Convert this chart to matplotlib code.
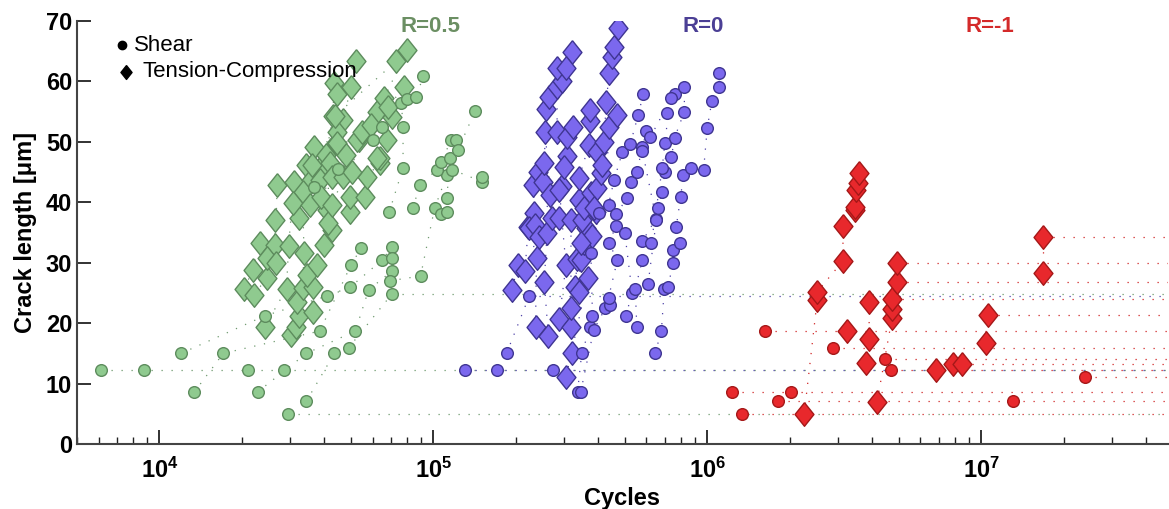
import numpy as np
import matplotlib
matplotlib.use('Agg')
import matplotlib.pyplot as plt
from matplotlib.ticker import LogLocator, FuncFormatter

plt.rcParams['font.family'] = ['Liberation Sans', 'DejaVu Sans']
plt.rcParams['mathtext.fontset'] = 'custom'
plt.rcParams['mathtext.rm'] = 'Liberation Sans'
plt.rcParams['mathtext.bf'] = 'Liberation Sans:bold'

# ---- R=0.5, shear (circles); ids = crack tracks
g_s_N = [6140, 8800, 21000, 28400,
         12000, 24200, 41000, 49800, 65200, 70500,
         13400, 17100, 38500, 50000, 54600,
         22800, 34400, 51900, 58000, 70500, 70500,
         29500,
         34400, 43500, 49000, 70500,
         69200, 89800, 101000, 112000, 142000,
         69000, 77500, 77500, 76400, 80400, 86700, 91900,
         36700, 45000, 60000, 65000,
         84000, 89500, 103000, 107000, 116000, 121000,
         107000, 112000, 112000, 115000, 123000,
         117000, 151000, 151000]
g_s_a = [12.2, 12.2, 12.2, 12.2,
         15.0, 21.2, 24.5, 26.0, 30.5, 32.6,
         8.6, 15.0, 18.7, 29.6, 32.5,
         8.6, 15.0, 18.7, 25.5, 28.6, 30.8,
         5.0,
         7.1, 15.0, 15.9, 24.8,
         27.0, 27.8, 39.0, 44.5, 55.1,
         38.4, 45.7, 52.5, 56.5, 57.1, 57.5, 60.9,
         42.5, 45.5, 50.3, 52.5,
         39.0, 42.9, 45.4, 46.7, 50.3, 50.3,
         38.0, 38.4, 40.7, 47.4, 48.7,
         45.4, 43.4, 44.2]
g_s_id = [1]*4 + [2]*6 + [3]*5 + [4]*6 + [5] + [6]*4 + [7]*5 + [8]*7 + [9]*4 + [10]*6 + [11]*5 + [12]*3

# ---- R=0.5, tension-compression (diamonds)
g_t_N = [20400, 21900, 23200, 26500, 26900,
         22200, 24600, 24600, 26700, 26300, 32400, 34400, 36700,
         24200, 29100, 29600, 31000, 35800, 39000, 42900, 43500,
         30300, 31500, 32400, 31700, 33300, 33700, 33300, 38500, 40500, 44600,
         36400, 36400, 34700, 37700, 40000, 41000, 41800, 46900, 50000, 52400,
         30600, 35400, 36000, 38800, 42700, 44000, 44600, 43800, 73300,
         42800, 41400, 42800, 46900, 44600, 53500, 62000, 66000, 80300,
         49500, 49500, 56500, 57000, 63700, 64000, 68000, 70500, 68500, 78000,
         48000, 50500, 52700, 55000, 59000, 62300]
g_t_a = [25.7, 28.8, 33.3, 33.0, 42.9,
         24.7, 27.5, 30.8, 30.0, 37.1, 37.4, 46.2, 49.2,
         19.4, 25.7, 32.8, 43.4, 43.7, 45.9, 54.2, 59.8,
         18.0, 19.4, 21.2, 23.5, 25.8, 31.6, 41.7, 43.7, 47.8, 57.9,
         21.8, 26.0, 28.0, 29.6, 33.0, 38.7, 46.5, 53.6, 59.1, 63.4,
         39.9, 39.6, 46.2, 40.9, 44.2, 49.8, 51.7, 54.3, 63.4,
         35.4, 36.6, 39.6, 44.2, 49.8, 50.3, 55.0, 57.2, 65.2,
         38.4, 40.9, 40.9, 44.2, 46.5, 47.4, 50.3, 54.1, 55.8, 59.1,
         47.8, 45.0, 50.3, 51.7, 52.8, 47.4]
g_t_id = [1]*5 + [2]*8 + [3]*8 + [4]*10 + [5]*10 + [6]*9 + [7]*9 + [8]*10 + [9]*6

# ---- R=0, shear (circles)
p_s_N = [131000, 171000, 274000,
         185000, 224000,
         336000, 348000, 374000, 381000, 376000, 403000, 436000, 457000, 490000, 524000, 560000, 584000,
         345000, 385000, 425000, 443000, 436000, 470000, 436000, 466000, 466000, 510000, 528000, 553000, 580000, 600000,
         504000, 532000, 500000, 580000, 650000, 660000, 685000, 700000, 714000, 760000,
         553000, 546000, 580000, 625000, 685000, 700000, 740000, 760000, 825000, 825000,
         645000, 680000, 697000, 718000, 752000, 752000, 795000, 770000, 800000, 817000, 875000,
         608000, 652000, 580000, 620000, 740000,
         970000, 1000000, 1040000, 1107000, 1107000]
p_s_a = [12.2, 12.2, 12.2,
         15.0, 24.5,
         8.6, 15.0, 19.4, 21.2, 31.6, 38.2, 39.6, 43.7, 48.3, 49.7, 54.5, 57.9,
         8.6, 18.9, 22.5, 23.0, 24.2, 30.5, 33.3, 36.1, 38.1, 40.7, 43.4, 45.0, 49.2, 51.8,
         21.2, 25.0, 34.9, 33.6, 37.3, 39.0, 41.7, 45.0, 54.8, 57.9,
         19.4, 25.7, 30.5, 33.3, 45.7, 49.8, 47.5, 50.7, 55.0, 59.1,
         15.0, 18.7, 25.7, 26.0, 30.0, 32.1, 33.3, 35.9, 40.9, 44.5, 45.7,
         26.5, 37.1, 48.5, 50.8, 57.3,
         45.4, 52.3, 56.8, 59.1, 61.4]
p_s_id = [1]*3 + [2]*2 + [3]*12 + [4]*14 + [5]*10 + [6]*10 + [7]*11 + [8]*5 + [9]*5

# ---- R=0, tension-compression (diamonds)
p_t_N = [194000, 203000, 216000, 222000, 234000, 232000, 240000, 252000, 254000, 258000, 265000, 283000, 296000, 321000,
         236000, 238000, 224000, 235000, 244000, 267000, 256000, 283000, 283000, 305000,
         263000, 254000, 260000, 270000, 288000, 296000, 308000, 308000, 324000, 374000, 374000,
         288000, 305000, 288000, 300000,
         318000, 318000, 340000, 340000, 370000,
         320000, 318000, 330000, 335000, 345000, 355000, 377000, 396000, 397000, 420000, 437000, 428000,
         305000, 367000, 362000, 380000, 392000, 410000, 412000, 437000, 450000, 455000, 473000,
         340000, 345000, 350000, 355000, 385000, 470000]
p_t_a = [25.5, 29.6, 28.6, 35.9, 38.2, 42.9, 45.0, 43.4, 46.5, 55.5, 57.5, 59.0, 60.0, 64.9,
         19.4, 30.8, 35.8, 36.3, 34.3, 41.2, 51.7, 51.7, 62.2, 62.2,
         17.9, 26.8, 34.9, 37.4, 37.4, 42.7, 47.7, 50.8, 52.5, 53.5, 55.3,
         20.7, 29.6, 42.0, 45.9,
         19.4, 37.1, 40.4, 44.0, 49.5,
         15.0, 22.5, 26.0, 30.6, 30.5, 33.3, 41.6, 42.4, 48.3, 50.0, 52.5, 56.6,
         11.1, 27.5, 35.8, 34.4, 38.4, 44.9, 46.2, 61.4, 64.0, 65.7, 68.9,
         25.2, 33.3, 37.1, 39.0, 39.0, 54.5]
p_t_id = [1]*14 + [2]*10 + [3]*11 + [4]*4 + [8]*5 + [5]*12 + [6]*11 + [7]*6

# ---- R=-1, shear (circles)
r_s_N = [1230000, 2030000, 1340000, 1630000, 1820000, 13100000, 2880000, 4460000, 4700000, 24000000]
r_s_a = [8.6, 8.6, 5.0, 18.7, 7.1, 7.1, 15.9, 14.1, 12.2, 11.1]
r_s_id = [1, 1, 2, 3, 4, 4, 5, 6, 7, 8]

# ---- R=-1, tension-compression (diamonds)
r_t_N = [2260000, 2520000, 2520000, 3130000, 3130000, 3470000, 3470000, 3500000, 3560000, 3580000,
         3240000,
         3800000, 3900000, 3900000,
         4170000, 4730000, 4730000, 4730000,
         4930000, 4930000,
         6850000,
         7900000, 8500000,
         10400000, 10600000,
         16800000, 16800000]
r_t_a = [5.0, 23.8, 25.2, 30.3, 36.1, 38.7, 39.2, 42.0, 43.2, 44.8,
         18.7,
         13.4, 17.4, 23.5,
         7.0, 20.9, 22.3, 24.0,
         26.8, 30.0,
         12.2,
         13.2, 13.2,
         16.7, 21.4,
         28.3, 34.3]
r_t_id = [1]*10 + [2] + [3]*3 + [4]*4 + [5]*2 + [6] + [7]*2 + [8]*2 + [9]*2

# cracks that stopped growing: dotted line runs on to the end of the axis
g_run_N = [28400, 29500, 70500]
g_run_a = [12.2, 5.0, 24.8]
p_run_N = [274000, 224000]
p_run_a = [12.2, 24.5]
r_run_N = [16800000, 4930000, 4930000, 4730000, 10600000, 1630000, 2880000, 4460000, 8500000, 4700000,
           24000000, 2030000, 13100000, 1340000]
r_run_a = [34.3, 30.0, 26.8, 24.0, 21.4, 18.7, 15.9, 14.1, 13.2, 12.2, 11.1, 8.6, 7.1, 5.0]

groups = [
    ('#8fca8f', '#5d8c5d', '#6f9a6f',
     (g_s_N, g_s_a, g_s_id), (g_t_N, g_t_a, g_t_id), (g_run_N, g_run_a)),
    ('#7b68ee', '#3f3592', '#4e42a8',
     (p_s_N, p_s_a, p_s_id), (p_t_N, p_t_a, p_t_id), (p_run_N, p_run_a)),
    ('#e8282c', '#a51818', '#d02424',
     (r_s_N, r_s_a, r_s_id), (r_t_N, r_t_a, r_t_id), (r_run_N, r_run_a)),
]

XMAX = 4.8e7
dotted = (0, (1, 7))
diamond = [(0, 1), (0.8, 0), (0, -1), (-0.8, 0), (0, 1)]

fig = plt.figure(figsize=(11.69, 5.09), dpi=100)
ax = fig.add_axes([0.0659, 0.1277, 0.933, 0.831])
ax.set_xscale('log')

for face, edge, line, shear, tc, run in groups:
    # dotted track lines + runouts first
    for N, a, ids in (shear, tc):
        N = np.array(N, dtype=float)
        a = np.array(a, dtype=float)
        ids = np.array(ids)
        for k in np.unique(ids):
            m = ids == k
            if m.sum() > 1:
                ax.plot(N[m], a[m], linestyle=dotted, color=line, lw=0.9, zorder=1)
    for n0, a0 in zip(*run):
        ax.plot([n0, XMAX], [a0, a0], linestyle=dotted, color=line, lw=0.9, zorder=1)
for face, edge, line, shear, tc, run in groups:
    ax.plot(tc[0], tc[1], linestyle='none', marker=diamond, ms=17, mfc=face, mec=edge, mew=1.0, zorder=3)
    ax.plot(shear[0], shear[1], linestyle='none', marker='o', ms=8.4, mfc=face, mec=edge, mew=1.0, zorder=4)

# group labels
ax.text(0.324, 0.988, 'R=0.5', color='#6b8f63', fontsize=16, fontweight='bold', ha='center', va='center', transform=ax.transAxes)
ax.text(0.574, 0.988, 'R=0', color='#4b3f95', fontsize=16, fontweight='bold', ha='center', va='center', transform=ax.transAxes)
ax.text(0.837, 0.988, 'R=-1', color='#d42a2a', fontsize=16, fontweight='bold', ha='center', va='center', transform=ax.transAxes)

# legend drawn by hand
ax.plot([0.041], [0.943], marker='o', ms=6, color='black', transform=ax.transAxes, clip_on=False)
ax.plot([0.045], [0.879], marker=diamond, ms=10, color='black', transform=ax.transAxes, clip_on=False)
ax.text(0.052, 0.943, 'Shear', fontsize=16, va='center', ha='left', transform=ax.transAxes)
ax.text(0.060, 0.880, 'Tension-Compression', fontsize=16, va='center', ha='left', transform=ax.transAxes)

ax.set_xlim(5000, XMAX)
ax.set_ylim(0, 70)
ax.set_yticks(range(0, 71, 10))
ax.xaxis.set_major_locator(LogLocator(base=10, numticks=10))
ax.xaxis.set_minor_locator(LogLocator(base=10, subs=np.arange(2, 10), numticks=20))
ax.xaxis.set_major_formatter(FuncFormatter(lambda v, p: r'$\mathbf{10^{%d}}$' % round(np.log10(v))))

for s in ['top', 'right']:
    ax.spines[s].set_visible(False)
for s in ['left', 'bottom']:
    ax.spines[s].set_color('#444444')
    ax.spines[s].set_linewidth(1.5)
ax.tick_params(axis='both', which='major', direction='in', length=10, width=1.3, color='#222222',
               labelsize=17)
ax.tick_params(axis='y', which='major', pad=3.5)
ax.tick_params(axis='x', which='major', pad=10)
ax.tick_params(axis='x', which='minor', direction='in', length=5, width=1.0, color='#222222')
for lab in ax.get_yticklabels():
    lab.set_fontweight('bold')

ax.set_xlabel('Cycles', fontsize=17, fontweight='bold', labelpad=3)
ax.set_ylabel('Crack length [μm]', fontsize=17, fontweight='bold', labelpad=6)

fig.savefig('out.png', dpi=100)
